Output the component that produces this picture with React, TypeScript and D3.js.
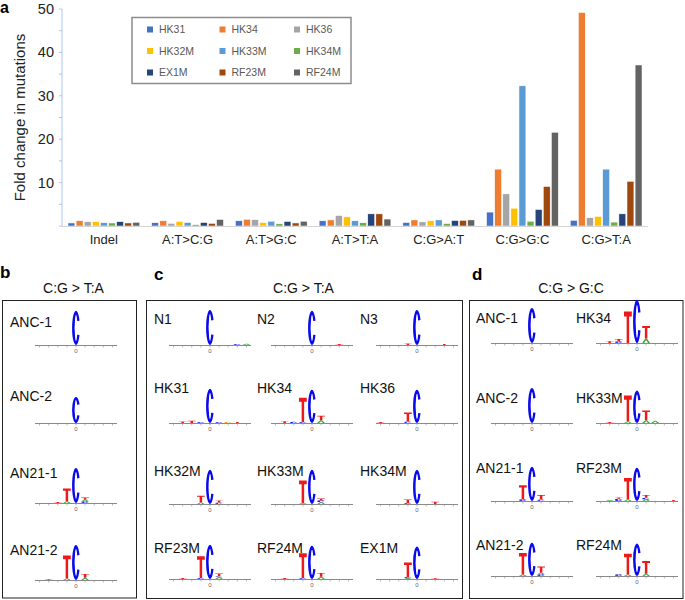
import React from "react";
import * as d3 from "d3";

// ---- panel a data ----
const categories = ["Indel", "A:T>C:G", "A:T>G:C", "A:T>T:A", "C:G>A:T", "C:G>G:C", "C:G>T:A"];
const series = ["HK31", "HK34", "HK36", "HK32M", "HK33M", "HK34M", "EX1M", "RF23M", "RF24M"];
const seriesColors = ["#4472c4", "#ed7d31", "#a5a5a5", "#ffc000", "#5b9bd5", "#70ad47", "#264478", "#9e480e", "#636363"];
const HK31 = [0.7, 0.75, 1.2, 1.2, 0.8, 3.2, 1.3];
const HK34 = [1.2, 1.2, 1.55, 1.4, 1.4, 13.1, 49.2];
const HK36 = [1.0, 0.6, 1.45, 2.4, 0.95, 7.4, 1.9];
const HK32M = [1.0, 1.05, 0.8, 2.1, 1.2, 4.1, 2.2];
const HK33M = [0.75, 0.8, 1.1, 1.2, 1.4, 32.3, 13.1];
const HK34M = [0.7, 0.3, 0.5, 0.75, 0.55, 1.1, 0.9];
const EX1M = [1.0, 0.8, 1.05, 2.8, 1.25, 3.8, 2.8];
const RF23M = [0.7, 0.6, 0.7, 2.8, 1.3, 9.1, 10.3];
const RF24M = [0.85, 1.5, 1.1, 1.6, 1.4, 21.6, 37.1];
const values = [HK31, HK34, HK36, HK32M, HK33M, HK34M, EX1M, RF23M, RF24M];
const yTickValues = [0, 5, 10, 15, 20, 25, 30, 35, 40, 45, 50];

// ---- logo data: [position, letter, bits] stacked bottom-up ----
type Stack = [number, string, number][];
const logosB: [string, Stack][] = [
  ["ANC-1", [[0, "C", 1.9]]],
  ["ANC-2", [[0, "C", 1.45]]],
  ["AN21-1", [[0, "C", 1.95], [-1, "A", 0.08], [-1, "T", 0.72], [1, "C", 0.1], [1, "A", 0.08], [1, "T", 0.12], [-2, "T", 0.05]]],
  ["AN21-2", [[0, "C", 1.95], [-1, "A", 0.08], [-1, "T", 1.28], [1, "A", 0.12], [1, "T", 0.22], [-3, "T", 0.04]]],
];
const logosC: [string, Stack][] = [
  ["N1", [[0, "C", 1.95], [3, "C", 0.05], [4, "A", 0.07]]],
  ["N2", [[0, "C", 1.9], [3, "T", 0.05]]],
  ["N3", [[0, "C", 1.95], [-1, "T", 0.08], [3, "T", 0.06]]],
  ["HK31", [[0, "C", 1.9], [-3, "T", 0.08], [-2, "T", 0.12], [-1, "C", 0.05], [1, "C", 0.05], [2, "G", 0.06], [3, "T", 0.06]]],
  ["HK34", [[0, "C", 1.85], [-3, "T", 0.1], [-2, "C", 0.06], [-1, "C", 0.05], [-1, "T", 1.35], [1, "A", 0.15], [1, "T", 0.25]]],
  ["HK36", [[0, "C", 1.85], [-1, "C", 0.08], [-1, "T", 0.5], [-4, "T", 0.05]]],
  ["HK32M", [[0, "C", 1.9], [-1, "A", 0.08], [-1, "T", 0.38], [1, "C", 0.08], [1, "T", 0.12]]],
  ["HK33M", [[0, "C", 1.9], [-1, "A", 0.05], [-1, "T", 1.25], [1, "A", 0.1], [1, "C", 0.1], [1, "T", 0.1]]],
  ["HK34M", [[0, "C", 1.9], [-1, "C", 0.05], [-1, "T", 0.2], [2, "T", 0.12]]],
  ["RF23M", [[0, "C", 1.9], [-3, "T", 0.05], [-1, "C", 0.05], [-1, "T", 1.22], [1, "A", 0.1], [1, "C", 0.05], [1, "T", 0.15]]],
  ["RF24M", [[0, "C", 1.85], [-3, "T", 0.05], [-1, "C", 0.05], [-1, "T", 1.38], [1, "A", 0.12], [1, "T", 0.22]]],
  ["EX1M", [[0, "C", 1.8], [-1, "A", 0.05], [-1, "C", 0.06], [-1, "T", 0.8], [2, "T", 0.04]]],
];
const logosD: [string, Stack][] = [
  ["ANC-1", [[0, "C", 1.95]]],
  ["HK34", [[0, "C", 2.4], [-3, "T", 0.1], [-2, "C", 0.1], [-2, "T", 0.12], [-1, "T", 1.75], [1, "A", 0.25], [1, "T", 0.7]]],
  ["ANC-2", [[0, "C", 1.95]]],
  ["HK33M", [[0, "C", 1.8], [-3, "T", 0.05], [-1, "A", 0.08], [-1, "T", 1.45], [1, "A", 0.15], [1, "T", 0.55], [2, "A", 0.12]]],
  ["AN21-1", [[0, "C", 1.9], [-1, "C", 0.1], [-1, "T", 0.78], [1, "C", 0.08], [1, "T", 0.25]]],
  ["RF23M", [[0, "C", 1.85], [-3, "A", 0.05], [-2, "C", 0.12], [-2, "T", 0.08], [-1, "A", 0.08], [-1, "T", 1.2], [1, "A", 0.08], [1, "C", 0.1], [1, "T", 0.15], [4, "T", 0.06]]],
  ["AN21-2", [[0, "C", 1.85], [-1, "A", 0.08], [-1, "T", 1.2], [1, "C", 0.1], [1, "A", 0.08], [1, "T", 0.35]]],
  ["RF24M", [[0, "C", 1.8], [-2, "C", 0.1], [-1, "A", 0.08], [-1, "T", 1.15], [1, "A", 0.12], [1, "T", 0.72]]],
];

const FONT = "'Liberation Sans', Arial, Helvetica, sans-serif";

// letter shapes in a unit box, stretched to each letter's width and height
const cGlyph = "M0.95,0.29 A0.5,0.5 0 1 0 0.95,0.71 L0.645,0.7 A0.17,0.38 0 1 1 0.645,0.3 Z";
const glyphs: Record<string, string> = {
  C: cGlyph,
  G: cGlyph,
  T: "M0,0 H1 V0.16 H0.66 V1 H0.34 V0.16 H0 Z",
  A: "M0,1 L0.4,0 H0.6 L1,1 H0.75 L0.5,0.35 L0.25,1 Z",
};
const glyphColors: Record<string, string> = { C: "#0a0aee", G: "#f5a000", T: "#ee1a1a", A: "#2eaa3a" };

function Logo({ cx, by, stacks }: { cx: number; by: number; stacks: Stack }) {
  const xL = d3.scaleLinear().domain([-4.5, 4.5]).range([cx - 41, cx + 41]);
  const hL = d3.scaleLinear().domain([0, 1]).range([0, 18]);
  const acc: Record<number, number> = {};
  const w = 7.8;
  return (
    <g>
      <line x1={xL(-4.5)} x2={xL(4.5)} y1={by + 0.5} y2={by + 0.5} stroke="#8a8a8a" strokeWidth={1.2} />
      {d3.range(-4, 5).map((p) => (
        <line key={p} x1={xL(p)} x2={xL(p)} y1={by + 0.5} y2={by + 2.5} stroke="#8a8a8a" strokeWidth={0.6} />
      ))}
      <text x={xL(0)} y={by + 8} fontSize={6} textAnchor="middle" fill="#666" fontFamily={FONT}>0</text>
      {stacks.map(([pos, letter, bits], i) => {
        const h = hL(bits);
        const base = acc[pos] || 0;
        acc[pos] = base + h;
        const top = by - base - h;
        return (
          <path
            key={i}
            d={glyphs[letter]}
            fill={glyphColors[letter]}
            transform={`translate(${xL(pos) - w / 2},${top}) scale(${w},${h})`}
          />
        );
      })}
    </g>
  );
}

function LogoPanel({ logos, cols, rows, labelX, labelY }: { logos: [string, Stack][]; cols: number[]; rows: number[]; labelX: number[]; labelY: number[] }) {
  return (
    <g>
      {logos.map(([name, stacks], i) => {
        const c = i % cols.length;
        const r = Math.floor(i / cols.length);
        return (
          <g key={name + i}>
            <text x={labelX[c]} y={labelY[r]} fontSize={14} fontFamily={FONT} fill="#111">{name}</text>
            <Logo cx={cols[c]} by={rows[r]} stacks={stacks} />
          </g>
        );
      })}
    </g>
  );
}

export default function App() {
  const x0 = d3.scaleBand().domain(categories).range([62, 648]);
  const x1 = d3.scaleBand().domain(series).range([6, x0.bandwidth() - 6]).paddingInner(0.15);
  const y = d3.scaleLinear().domain([0, 50]).range([226, 9]);

  return (
    <svg width={685} height={600} style={{ position: "absolute", left: 0, top: 0, background: "#fff" }} fontFamily={FONT}>
      {/* panel a */}
      <text x={0} y={13} fontSize={16} fontWeight="bold">a</text>
      <text transform={`translate(25,${y(25)}) rotate(-90)`} textAnchor="middle" fontSize={15} fill="#222">Fold change in mutations</text>
      <line x1={62} x2={62} y1={y(50)} y2={y(0)} stroke="#aec6ec" strokeWidth={1} />
      {yTickValues.map((t) => (
        <g key={t}>
          <line x1={59} x2={62} y1={y(t)} y2={y(t)} stroke="#aec6ec" strokeWidth={1} />
          {t > 0 && t % 10 === 0 && (
            <text x={54} y={y(t) + 5} fontSize={14.5} textAnchor="end" fill="#222">{t}</text>
          )}
        </g>
      ))}
      {categories.map((cat, ci) => (
        <g key={cat} transform={`translate(${x0(cat)},0)`}>
          {series.map((s, si) => (
            <rect
              key={s}
              x={x1(s)}
              y={y(values[si][ci])}
              width={x1.bandwidth()}
              height={y(0) - y(values[si][ci])}
              fill={seriesColors[si]}
              stroke="#fff"
              strokeWidth={0.5}
            />
          ))}
          <text x={x0.bandwidth() / 2} y={244} fontSize={13} textAnchor="middle" fill="#222">{cat}</text>
        </g>
      ))}
      <line x1={62} x2={648} y1={y(0) + 0.5} y2={y(0) + 0.5} stroke="#d4d4d4" strokeWidth={1} />
      {/* legend */}
      <rect x={132} y={17.5} width={219} height={66} fill="#fff" stroke="#8c8c8c" strokeWidth={1.5} />
      {series.map((s, i) => {
        const lx = [150, 222.5, 297][i % 3];
        const ly = [29.5, 51, 72.5][Math.floor(i / 3)];
        return (
          <g key={s}>
            <rect x={lx - 3} y={ly - 3} width={6} height={6} fill={seriesColors[i]} />
            <text x={lx + 9} y={ly + 3.8} fontSize={10.5} fill="#595959">{s}</text>
          </g>
        );
      })}

      {/* panel b */}
      <text x={0} y={278} fontSize={17} fontWeight="bold">b</text>
      <text x={73.5} y={293} fontSize={14} textAnchor="middle" fill="#111">C:G &gt; T:A</text>
      <rect x={2.5} y={300.5} width={134} height={297.5} fill="none" stroke="#222" strokeWidth={1} />
      <LogoPanel logos={logosB} cols={[76]} rows={[345, 423, 503, 580]} labelX={[10]} labelY={[327, 401, 478, 555]} />

      {/* panel c */}
      <text x={154} y={280} fontSize={17} fontWeight="bold">c</text>
      <text x={303.5} y={293} fontSize={14} textAnchor="middle" fill="#111">C:G &gt; T:A</text>
      <rect x={146.5} y={300.5} width={316} height={298} fill="none" stroke="#222" strokeWidth={1} />
      <LogoPanel logos={logosC} cols={[210, 312, 417]} rows={[345, 423, 504, 579]} labelX={[154, 257, 360]} labelY={[324, 393, 476, 553]} />

      {/* panel d */}
      <text x={472} y={280} fontSize={17} fontWeight="bold">d</text>
      <text x={571} y={293} fontSize={14} textAnchor="middle" fill="#111">C:G &gt; G:C</text>
      <rect x={469.5} y={300.5} width={213.5} height={298} fill="none" stroke="#222" strokeWidth={1} />
      <LogoPanel logos={logosD} cols={[532, 637]} rows={[343, 423, 501, 576]} labelX={[476, 576]} labelY={[323, 403, 473, 550]} />
    </svg>
  );
}
